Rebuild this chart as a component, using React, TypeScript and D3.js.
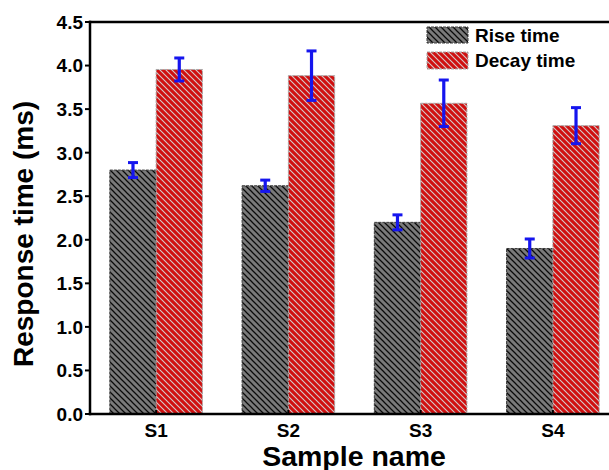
import React from "react";
import * as d3 from "d3";

const categories = ["S1", "S2", "S3", "S4"];
const riseTime = [2.8, 2.62, 2.2, 1.9];
const riseErr = [0.086, 0.065, 0.086, 0.109];
const decayTime = [3.955, 3.884, 3.567, 3.31];
const decayErr = [0.132, 0.284, 0.267, 0.207];
const yTicks = [0, 0.5, 1.0, 1.5, 2.0, 2.5, 3.0, 3.5, 4.0, 4.5];
const seriesNames = ["Rise time", "Decay time"];

const W = 609;
const H = 470;
const FONT = "'Liberation Sans', Arial, Helvetica, sans-serif";
const HATCH = "M0,0 L6,6 M-1,5 L1,7 M5,-1 L7,1";

export default function App() {
  const x = d3.scaleLinear().domain([0.5, 4.5]).range([90, 619]);
  const y = d3.scaleLinear().domain([0, 4.5]).range([414, 22]);
  const bw = x(1.35) - x(1);
  const blue = "#1515ee";

  const errBar = (cx: number, v: number, e: number, key: string) => (
    <g key={key} stroke={blue}>
      <line x1={cx} x2={cx} y1={y(v + e)} y2={y(v - e)} strokeWidth={3.2} />
      <line x1={cx - 5} x2={cx + 5} y1={y(v + e)} y2={y(v + e)} strokeWidth={3} />
      <line x1={cx - 5} x2={cx + 5} y1={y(v - e)} y2={y(v - e)} strokeWidth={3} />
    </g>
  );

  return (
    <svg
      width={W}
      height={H}
      style={{ position: "absolute", left: 0, top: 0, background: "#fff" }}
      fontFamily={FONT}
    >
      <defs>
        <pattern id="riseHatch" width={6} height={6} patternUnits="userSpaceOnUse">
          <rect width={6} height={6} fill="#7a7a7a" />
          <path d={HATCH} stroke="#0a0a0a" strokeWidth={1.25} />
        </pattern>
        <pattern id="decayHatch" width={6} height={6} patternUnits="userSpaceOnUse">
          <rect width={6} height={6} fill="#d01010" />
          <path d={HATCH} stroke="#d4caca" strokeWidth={1.1} />
        </pattern>
      </defs>

      {/* bars */}
      {categories.map((c, i) => {
        const cx = x(i + 1);
        return (
          <g key={c}>
            <rect x={cx - bw} y={y(riseTime[i])} width={bw} height={y(0) - y(riseTime[i])}
              fill="url(#riseHatch)" stroke="#3a3a3a" strokeWidth={1} strokeDasharray="3,1" />
            <rect x={cx} y={y(decayTime[i])} width={bw} height={y(0) - y(decayTime[i])}
              fill="url(#decayHatch)" stroke="#a8a8a8" strokeWidth={1} strokeDasharray="3,1" />
          </g>
        );
      })}

      {/* error bars */}
      {categories.map((c, i) => {
        const cx = x(i + 1);
        return (
          <g key={"e" + c}>
            {errBar(cx - bw / 2, riseTime[i], riseErr[i], "r" + c)}
            {errBar(cx + bw / 2, decayTime[i], decayErr[i], "d" + c)}
          </g>
        );
      })}

      {/* axes frame */}
      <line x1={x(0.5)} x2={x(0.5)} y1={y(4.5) - 1.2} y2={y(0) + 1.2} stroke="#000" strokeWidth={2.5} />
      <line x1={x(0.5) - 1.2} x2={W} y1={y(0)} y2={y(0)} stroke="#000" strokeWidth={2.5} />
      <line x1={x(0.5) - 1.2} x2={W} y1={y(4.5)} y2={y(4.5)} stroke="#000" strokeWidth={2.5} />

      {/* y ticks */}
      {yTicks.map((t) => (
        <g key={"yt" + t}>
          <line x1={x(0.5) - 5} x2={x(0.5)} y1={y(t)} y2={y(t)} stroke="#000" strokeWidth={2} />
          <text x={83} y={y(t)} dy="0.36em" textAnchor="end" fontSize={19} fontWeight="bold">
            {d3.format(".1f")(t)}
          </text>
        </g>
      ))}

      {/* x ticks */}
      {categories.map((c, i) => (
        <g key={"xt" + c}>
          <line x1={x(i + 1)} x2={x(i + 1)} y1={y(0)} y2={y(0) - 4} stroke="#000" strokeWidth={2} />
          <text x={x(i + 1)} y={436.5} textAnchor="middle" fontSize={19} fontWeight="bold">{c}</text>
        </g>
      ))}

      {/* axis titles */}
      <text x={354} y={465.5} textAnchor="middle" fontSize={28.5} fontWeight="bold">Sample name</text>
      <text transform={`translate(33,${234}) rotate(-90)`} textAnchor="middle" fontSize={28} fontWeight="bold">
        Response time (ms)
      </text>

      {/* legend */}
      <rect x={427} y={27} width={41} height={16} fill="url(#riseHatch)" stroke="#3a3a3a" strokeWidth={1} strokeDasharray="3,1" />
      <text x={475} y={42} fontSize={19} fontWeight="bold">{seriesNames[0]}</text>
      <rect x={427} y={52} width={41} height={17} fill="url(#decayHatch)" stroke="#a8a8a8" strokeWidth={1} strokeDasharray="3,1" />
      <text x={475} y={67} fontSize={19} fontWeight="bold">{seriesNames[1]}</text>
    </svg>
  );
}
